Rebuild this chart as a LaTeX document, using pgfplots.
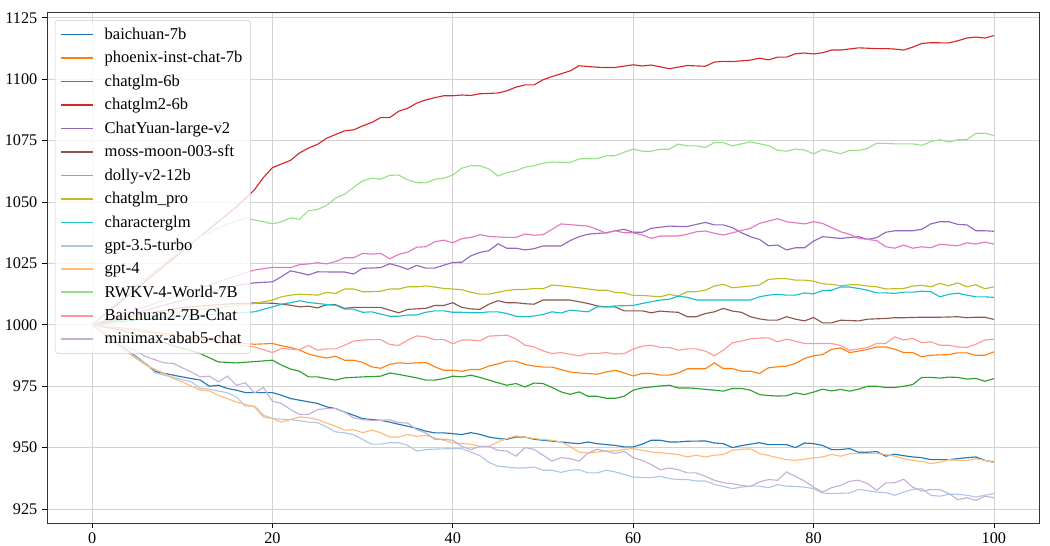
\documentclass[border=0pt]{standalone}
\usepackage{pgfplots}
\pgfplotsset{compat=1.18}
\usepackage{fontspec}
\setmainfont{Liberation Serif}

\definecolor{c1}{HTML}{1F77B4}
\definecolor{c2}{HTML}{FF7F0E}
\definecolor{c3}{HTML}{2CA02C}
\definecolor{c4}{HTML}{D62728}
\definecolor{c5}{HTML}{9467BD}
\definecolor{c6}{HTML}{8C564B}
\definecolor{c7}{HTML}{E377C2}
\definecolor{c8}{HTML}{BCBD22}
\definecolor{c9}{HTML}{17BECF}
\definecolor{c10}{HTML}{AEC7E8}
\definecolor{c11}{HTML}{FFBB78}
\definecolor{c12}{HTML}{98DF8A}
\definecolor{c13}{HTML}{FF9896}
\definecolor{c14}{HTML}{C5B0D5}

\begin{document}
\begin{tikzpicture}
% fix the page to the reference proportions (1px = 0.75pt)
\useasboundingbox (-35.25pt,-17.25pt) rectangle (752.25pt,392.25pt);
\begin{axis}[
  scale only axis, width=744pt, height=383.25pt,
  at={(0,0)}, anchor=south west,
  xmin=-5, xmax=105, ymin=919.3, ymax=1127.4,
  xtick={0,20,40,60,80,100},
  ytick={925,950,975,1000,1025,1050,1075,1100,1125},
  tick pos=left, tick align=outside, major tick length=3.75pt,
  tick style={black, line width=0.6pt},
  grid=major, grid style={gray!35, line width=0.6pt},
  axis line style={black!80, line width=0.6pt},
  /pgf/number format/assume math mode=true,
  /pgf/number format/1000 sep={},
  ticklabel style={font=\fontsize{12.2}{14}\selectfont},
  every axis plot/.append style={line width=0.85pt, mark=none},
  legend cell align=left,
  legend image code/.code={\draw[#1, line width=1.35pt, draw opacity=1] (0pt,0pt) -- (24pt,0pt); \path (30pt,0pt);},
  legend style={at={(0.008,0.984)}, anchor=north west,
    font=\fontsize{12.4}{14}\selectfont, row sep=3.5pt,
    draw=gray!40, rounded corners=2pt, fill=white, fill opacity=0.8,
    text opacity=1, draw opacity=1, inner xsep=4pt, inner ysep=3.5pt},
]
\addplot[c1] coordinates {(0,1000) (2,994.5) (4,989.5) (6,984) (7,981) (9,979.5) (11,978.1) (12,977.5) (13,975) (14,975.4) (15,974.1) (16,973.4) (17,972.4) (19,972.4) (20,972.4) (21,971.3) (22,970) (23,969.3) (25,968) (26,966.6) (27,965.9) (28,964.5) (29,963.2) (30,961.8) (32,961.1) (33,960.4) (34,959.5) (35,958.7) (36,957.8) (37,956.7) (38,956) (39,956) (40,955.7) (41,955.3) (42,956.1) (43,955.4) (44,954.3) (45,953.7) (46,953.4) (47,954.3) (48,954.3) (49,953.4) (50,953) (52,952.3) (53,951.9) (54,951.6) (55,952.3) (56,951.6) (58,950.9) (59,950.3) (60,950.3) (61,951.4) (62,953) (63,953) (64,952.3) (65,952.3) (66,952.6) (68,952.7) (69,951.9) (70,951.6) (71,950) (72,950.8) (73,951.4) (74,952) (75,951.2) (77,951.2) (78,950) (79,951.9) (80,951.6) (81,950.9) (82,949.2) (83,949.2) (84,949.6) (85,948.1) (86,948.1) (87,948.4) (88,946.5) (89,947.3) (90,946.7) (91,946.2) (92,945.9) (93,945.1) (94,945.1) (95,945.1) (96,945.5) (97,945.9) (98,946.2) (99,944.8) (100,944.1)};
\addlegendentry{baichuan-7b}
\addplot[c2] coordinates {(0,1000) (5,998) (10,995.5) (15,993) (18,992.1) (20,992.4) (21,991.5) (22,990.8) (23,989.7) (24,988.1) (25,987.2) (26,986.5) (27,987.2) (28,985.6) (29,985.6) (30,984.7) (31,982.9) (32,982.3) (33,983.9) (34,984.5) (35,984.3) (36,984.5) (37,984.7) (38,982.9) (39,981.5) (40,981.5) (41,981.1) (42,981.8) (43,981.8) (44,983.2) (45,984.1) (46,985.2) (47,985.2) (48,983.9) (49,983.2) (50,982.8) (51,982.8) (52,981.8) (53,980.8) (54,980.4) (56,979.9) (57,980.8) (58,981.5) (59,980.4) (60,979.2) (61,980.2) (62,980.2) (63,979.5) (64,979.5) (65,980.4) (66,982.1) (67,982.1) (68,982.1) (69,984.5) (70,982.2) (71,982.2) (72,981.1) (73,981.1) (74,980.2) (75,982.5) (76,982.9) (77,983.2) (78,984.3) (79,986.3) (80,987.4) (81,987.9) (82,990) (83,990.6) (84,988.7) (85,989.3) (86,990) (87,991) (88,991) (89,990.1) (90,988.7) (91,988.7) (92,987) (93,987.6) (95,987.9) (96,988.6) (97,988.6) (98,987.6) (99,987.6) (100,989)};
\addlegendentry{phoenix-inst-chat-7b}
\addplot[c3] coordinates {(0,1000) (3,998) (6,995) (9,991.5) (12,988.3) (14,984.9) (16,984.5) (19,985.3) (20,985.6) (21,983.6) (22,982) (23,981.1) (24,978.8) (25,978.8) (26,978.1) (27,977.5) (28,978.4) (29,978.6) (30,978.8) (32,979.1) (33,980.4) (34,979.8) (35,979.1) (36,978.4) (37,977.5) (38,977.5) (39,978.1) (40,979.1) (41,978.8) (42,979.5) (43,978.6) (44,977.5) (45,976.4) (46,975.4) (47,976.1) (48,974.7) (49,976.3) (50,976.1) (51,974.5) (52,972.7) (53,971.7) (54,972.7) (55,970.9) (56,970.9) (57,970.1) (58,970.1) (59,970.9) (60,973.4) (61,974.3) (62,974.7) (63,975.1) (64,975.4) (65,974.3) (66,974.3) (67,974.1) (68,973.7) (69,973.4) (70,973) (71,974.1) (72,974.1) (73,973.4) (74,971.6) (75,971.2) (76,971) (77,971.1) (78,972.3) (79,971.6) (80,972.6) (81,973.8) (82,973.1) (83,973.7) (84,973) (85,973.8) (86,975) (87,975) (88,974.5) (89,974.5) (90,975) (91,975.7) (92,978.6) (93,978.6) (94,978.3) (95,978.7) (96,978.6) (97,977.9) (98,978.2) (99,977) (100,978.1)};
\addlegendentry{chatglm-6b}
\addplot[c4] coordinates {(0,1000) (2,1006) (5,1015) (8,1024) (11,1033) (14,1042) (16,1048) (18,1055) (19,1060) (20,1064) (21,1065.5) (22,1067) (23,1070) (24,1072) (25,1073.5) (26,1076) (27,1077.5) (28,1079) (29,1079.4) (30,1081) (31,1082.4) (32,1084.4) (33,1084.4) (34,1087) (35,1088.2) (36,1090.3) (37,1091.6) (38,1092.5) (39,1093.3) (40,1093.3) (41,1093.6) (42,1093.4) (43,1094.1) (45,1094.4) (46,1095.3) (47,1096.8) (48,1097.7) (49,1097.7) (50,1099.8) (51,1101.1) (53,1103.4) (54,1105.5) (56,1104.9) (57,1104.8) (58,1104.8) (60,1105.9) (61,1105.4) (62,1105.8) (64,1104.3) (66,1105.6) (68,1105.3) (69,1107) (70,1107.3) (71,1107.2) (73,1107.8) (74,1108.6) (75,1107.9) (76,1109) (77,1109) (78,1110.4) (79,1110.7) (80,1110.3) (81,1110.8) (82,1111.9) (83,1111.9) (85,1112.8) (87,1112.5) (88,1112.5) (89,1112.3) (90,1111.9) (91,1113.1) (92,1114.6) (93,1114.9) (95,1114.8) (96,1115.7) (97,1116.8) (98,1117.2) (99,1116.8) (100,1117.8)};
\addlegendentry{chatglm2-6b}
\addplot[c5] coordinates {(0,1000) (4,1004) (8,1008) (12,1012) (16,1016) (18,1017.1) (20,1017.5) (21,1019.6) (22,1022) (23,1021.2) (24,1020.3) (25,1021.6) (27,1021.5) (28,1021.5) (29,1020.7) (30,1023) (32,1023.3) (33,1024.9) (34,1023.9) (35,1022.6) (36,1024.2) (37,1023.1) (38,1023.1) (39,1024.3) (40,1025.4) (41,1025.5) (42,1028.1) (43,1029.5) (44,1030.2) (45,1033) (46,1031.2) (47,1031.2) (48,1030.5) (49,1031) (50,1032.1) (51,1032.1) (52,1032.1) (53,1034.3) (54,1035.9) (55,1036.9) (57,1037.5) (58,1038.3) (59,1038.9) (60,1037.7) (61,1037.7) (62,1039.3) (64,1040.2) (66,1040) (67,1040.9) (68,1041.7) (69,1040.7) (70,1040.7) (71,1039.6) (72,1037.5) (73,1035.9) (74,1034.8) (75,1032.2) (76,1032.5) (77,1030.5) (78,1031.4) (79,1031.4) (80,1034.1) (81,1035.9) (83,1035.2) (85,1035.9) (86,1034.8) (87,1035.5) (88,1037.7) (89,1038.3) (91,1038.3) (92,1038.9) (93,1041.1) (94,1042) (95,1042) (96,1040.9) (97,1040.7) (98,1038.3) (99,1038.3) (100,1038.1)};
\addlegendentry{ChatYuan-large-v2}
\addplot[c6] coordinates {(0,1000) (5,1004) (10,1007) (15,1008.5) (18,1008.9) (20,1008.8) (22,1008) (23,1007.3) (24,1007.6) (25,1006.9) (26,1008.2) (27,1008.2) (28,1006.7) (29,1007.1) (30,1007.1) (31,1007.1) (32,1007.1) (33,1006) (34,1004.9) (35,1006.3) (37,1006.7) (38,1007.9) (39,1007.9) (40,1009) (41,1007.1) (42,1006.5) (43,1006.3) (44,1008.4) (45,1009.8) (46,1009) (47,1009) (48,1008.6) (49,1008.4) (50,1010.1) (51,1010.1) (52,1010.1) (53,1010.1) (54,1009.4) (55,1008.7) (56,1007.7) (57,1007.3) (58,1007.3) (59,1005.7) (60,1005.7) (61,1005.7) (62,1004.9) (63,1005.6) (64,1005.3) (65,1005.1) (66,1003.3) (67,1003.3) (68,1004.6) (69,1005.3) (70,1006.7) (71,1005.6) (72,1005.1) (73,1003.3) (74,1002.4) (75,1001.9) (76,1001.9) (77,1003.3) (78,1002.3) (79,1001.6) (80,1003) (81,1000.8) (82,1000.8) (83,1001.9) (85,1001.6) (86,1002.3) (88,1002.6) (89,1002.9) (90,1002.9) (92,1003.1) (94,1003.1) (96,1003.3) (97,1002.9) (98,1003.1) (99,1003.1) (100,1002.2)};
\addlegendentry{moss-moon-003-sft}
\addplot[c7] coordinates {(0,1000) (4,1005) (8,1010) (12,1015) (16,1020) (18,1022.3) (20,1023.4) (22,1023.3) (23,1024.5) (24,1024.8) (25,1025.3) (26,1024.8) (27,1025.8) (28,1027.3) (29,1027.3) (30,1029.1) (31,1028.8) (32,1029.1) (33,1026.9) (34,1028.7) (35,1029.6) (36,1031.6) (37,1031.8) (38,1033.8) (39,1034.5) (40,1033.4) (41,1035.1) (42,1035.6) (43,1036.7) (44,1036) (46,1035.6) (47,1035.6) (48,1037) (49,1036.5) (50,1036.7) (51,1038.9) (52,1041.1) (55,1040.2) (56,1038.9) (57,1037.3) (58,1038.3) (59,1037.5) (60,1037.5) (61,1036.6) (62,1035.2) (63,1036.2) (65,1036.2) (66,1036.9) (67,1037.9) (68,1038.2) (69,1037.3) (70,1036.6) (71,1037.5) (73,1039.3) (74,1041.3) (76,1043.2) (77,1042) (79,1041.1) (80,1042) (81,1041.3) (82,1039.6) (83,1037.9) (84,1036.9) (85,1035.2) (86,1034.8) (87,1034.3) (88,1031.8) (89,1031.2) (90,1032.5) (91,1031.2) (92,1031.8) (93,1031.4) (94,1032.8) (96,1032.2) (97,1033.4) (98,1032.9) (99,1033.7) (100,1032.9)};
\addlegendentry{dolly-v2-12b}
\addplot[c8] coordinates {(0,1000) (5,1003) (10,1005.5) (15,1007.5) (18,1008.7) (20,1010.1) (21,1011.4) (22,1012.1) (23,1012.5) (25,1012.1) (26,1013.2) (27,1012.8) (28,1014.6) (29,1014.6) (30,1013.5) (31,1013.5) (32,1013.7) (33,1014.6) (34,1014.6) (35,1015.5) (36,1015.5) (37,1015.8) (38,1015.4) (39,1014.8) (40,1014.6) (41,1014.3) (42,1013.3) (43,1012.5) (44,1012.5) (46,1014) (47,1014.4) (48,1014.4) (49,1014.8) (50,1014.7) (51,1016.2) (52,1015.9) (54,1015.1) (56,1014.1) (57,1014.1) (58,1013.2) (59,1013) (60,1012) (61,1012) (63,1011.4) (64,1012.4) (65,1011.7) (66,1013.5) (67,1013.5) (68,1014.1) (69,1015.8) (70,1016.5) (71,1015.1) (73,1015.8) (74,1016.2) (75,1018.5) (76,1018.8) (77,1018.8) (78,1018.2) (79,1018.2) (80,1017.8) (81,1016.7) (82,1016.5) (83,1015.9) (84,1016.3) (85,1016.3) (86,1015.8) (87,1015.5) (88,1014.6) (90,1014.8) (91,1015.8) (92,1016.1) (93,1015.5) (94,1016.9) (95,1015.9) (96,1017.1) (97,1015.5) (98,1016.3) (99,1014.7) (100,1015.5)};
\addlegendentry{chatglm\_pro}
\addplot[c9] coordinates {(0,1000) (5,1002) (10,1003.5) (15,1004.5) (18,1005.3) (20,1007.3) (21,1008.4) (22,1009) (23,1009.8) (24,1009.1) (26,1008.3) (27,1008) (28,1006.4) (29,1006.4) (30,1005.1) (31,1005.3) (32,1004.4) (33,1003.5) (34,1003.5) (35,1004) (36,1004) (37,1005.1) (38,1005.7) (39,1005.7) (40,1005.1) (41,1005.1) (42,1004.9) (43,1004.9) (44,1005.3) (45,1005.3) (46,1004.6) (47,1003.5) (48,1003.3) (49,1003.6) (50,1004.2) (51,1005.3) (52,1004.8) (53,1006) (55,1005.3) (56,1007.3) (57,1007.3) (58,1007.7) (60,1007.9) (61,1008.7) (62,1009.4) (63,1010.1) (64,1010.4) (65,1011.7) (66,1011.2) (67,1010.1) (68,1010.1) (69,1010.1) (70,1010.1) (71,1010.1) (73,1010.1) (74,1011.4) (75,1012.1) (76,1012.4) (77,1012.1) (78,1012.1) (79,1013) (80,1012.6) (81,1014) (82,1014.1) (83,1015.4) (84,1015.4) (85,1014.8) (86,1014.1) (87,1013) (88,1013) (89,1012.8) (90,1013.3) (91,1013.3) (92,1013.7) (93,1013.5) (94,1011.4) (95,1012.4) (96,1012.9) (97,1012.1) (98,1011.4) (99,1011.4) (100,1011.2)};
\addlegendentry{characterglm}
\addplot[c10] coordinates {(0,1000) (2,994.5) (4,989) (6,984) (7,980.4) (9,978.6) (11,976.8) (12,974.1) (13,973.8) (15,972.3) (16,970.6) (17,966.9) (18,966.9) (19,963.2) (20,961.8) (22,961.4) (23,960.9) (24,960.4) (25,960.2) (26,958.4) (27,956.4) (28,956) (29,955.3) (30,953.3) (31,951.4) (32,951.4) (33,952) (34,952) (35,950.9) (36,948.6) (37,949.2) (38,949.4) (40,949.6) (41,949.6) (42,948.2) (43,946.7) (44,944) (45,942.4) (46,942.1) (47,941.7) (48,941.7) (49,942.1) (50,940.8) (51,940.8) (52,939.9) (53,940.8) (54,941) (55,939.7) (56,939.7) (57,940.8) (58,940.1) (59,939.1) (60,938) (61,937.8) (62,937.8) (63,938.3) (64,937.4) (65,937) (66,937) (67,936.4) (68,936.4) (69,935) (70,934.2) (71,933.3) (72,933.9) (73,934.3) (74,934.3) (75,933.7) (76,934.9) (77,934.3) (78,934.2) (79,933.9) (80,933.3) (81,931.5) (82,931.3) (84,931.5) (85,933) (87,931.9) (88,931.7) (89,930.6) (90,931.9) (91,933) (92,933.3) (93,930.6) (94,930.2) (95,931) (96,931) (97,930.6) (98,929.9) (99,930.6) (100,931.3)};
\addlegendentry{gpt-3.5-turbo}
\addplot[c11] coordinates {(0,1000) (2,994) (4,988.5) (6,983.5) (8,980.2) (9,978.1) (10,976.8) (12,973.4) (13,973.1) (14,971.3) (16,968.6) (18,966.6) (19,962.5) (20,961.8) (21,960.4) (22,961.4) (23,962.5) (24,962.2) (25,961.4) (26,960) (27,958.7) (28,957.1) (29,957.3) (30,956.1) (31,957.1) (32,956.1) (33,954.3) (34,954.3) (35,955.3) (36,954.6) (37,955) (38,953.9) (39,953) (40,951.9) (41,951.6) (42,951.4) (43,950.5) (44,950.5) (45,952.3) (46,953.7) (47,954.8) (48,954.3) (49,953.7) (50,953.3) (51,953) (52,952.3) (53,950.5) (54,948.2) (55,947.8) (56,948.2) (57,948.6) (58,948.6) (59,949.3) (60,949.6) (61,948.9) (62,948.2) (64,947.6) (65,947.2) (66,946.2) (67,946.9) (68,946.2) (69,946.9) (70,947.2) (71,948.9) (72,949.3) (73,949.5) (74,947.6) (75,946.8) (76,945.9) (77,945.1) (78,944.8) (80,945.8) (81,946.2) (82,947.2) (83,946.5) (84,947.6) (87,947.6) (88,947.2) (89,946.5) (90,945.5) (91,944.8) (92,944.4) (93,943.5) (94,944) (95,945.1) (96,944.8) (97,944.8) (98,945.5) (99,944.8) (100,943.9)};
\addlegendentry{gpt-4}
\addplot[c12] coordinates {(0,1000) (4,1013) (8,1025) (12,1036) (15,1041) (17,1043.4) (19,1042) (20,1041.1) (21,1042) (22,1043.6) (23,1043) (24,1046.5) (25,1047) (26,1048.6) (27,1051.6) (28,1053.2) (29,1056) (30,1058.6) (31,1059.7) (32,1059.3) (33,1060.9) (34,1061) (35,1059) (36,1057.9) (37,1057.8) (38,1059.3) (39,1059.7) (40,1061) (41,1063.8) (42,1064.8) (43,1064.8) (44,1063.5) (45,1060.6) (46,1062) (47,1062.7) (48,1064.2) (49,1064.8) (50,1065.8) (51,1066.3) (53,1066.1) (54,1067.6) (56,1067.7) (57,1068.8) (58,1068.9) (59,1070.3) (60,1071.6) (61,1070.7) (62,1070.7) (63,1071.5) (64,1071.5) (65,1073.6) (66,1072.9) (67,1072.9) (68,1072.2) (69,1074.2) (70,1074.2) (71,1072.9) (73,1074.5) (75,1073) (76,1071.1) (77,1070.7) (78,1071.6) (79,1071.2) (80,1069.6) (81,1071.4) (82,1070.5) (83,1069.7) (84,1071) (85,1071) (86,1071.9) (87,1074) (89,1073.7) (91,1073.7) (92,1073.1) (93,1074.6) (94,1075.4) (95,1074.4) (96,1075.4) (97,1075.4) (98,1078) (99,1078) (100,1077.1)};
\addlegendentry{RWKV-4-World-7B}
\addplot[c13] coordinates {(0,1000) (5,997.5) (10,995) (15,992.5) (18,991) (20,988.7) (21,990.4) (22,990.1) (23,990) (24,991.6) (25,989.7) (26,990.2) (27,990.2) (28,991.7) (29,993.4) (30,993.8) (31,994) (32,994) (33,992) (34,991.6) (35,993.8) (36,995.5) (37,995.1) (38,994) (39,994) (40,992.3) (41,993.8) (42,993.8) (43,993.5) (44,995.4) (46,995.8) (47,994.3) (48,991.7) (49,991) (50,989.4) (51,988.3) (52,988.7) (54,987.4) (55,988.3) (56,988.3) (57,988.7) (58,988.1) (59,988.3) (60,990.1) (61,991.3) (62,991.7) (63,990.8) (64,990.8) (65,989.7) (66,990.2) (67,990.2) (68,989.3) (69,987.4) (70,989.7) (71,992.7) (72,993.4) (73,994.3) (74,994.6) (75,994.7) (76,993.1) (77,994.2) (79,992.4) (80,992.4) (82,992.4) (83,991.6) (84,989.6) (86,990.8) (87,992.4) (88,992.4) (89,995.1) (90,993.8) (91,994.5) (92,992.7) (93,993.1) (94,991.7) (95,991.7) (96,991) (97,990.8) (98,992.1) (99,993.8) (100,994.2)};
\addlegendentry{Baichuan2-7B-Chat}
\addplot[c14] coordinates {(0,1000) (2,995.5) (4,991) (6,987) (8,984.5) (9,984.3) (10,982.5) (11,980.8) (12,978.8) (13,979.1) (14,976.8) (15,979.1) (16,975.4) (17,976.4) (18,972.3) (19,974.5) (20,968.9) (21,968) (22,965.5) (23,963.5) (24,963.5) (25,965.5) (26,965.9) (27,965.9) (28,964.5) (29,962.1) (30,961.4) (31,961.1) (32,961.1) (33,961.4) (34,960.2) (35,960) (36,957.3) (37,956) (38,953.4) (39,953.4) (40,953) (41,950.5) (42,949.2) (43,950.5) (44,950.5) (45,948.9) (46,948.6) (47,946.5) (48,950) (49,949.3) (50,946.9) (51,944.5) (52,945.9) (53,945.5) (54,944.5) (55,947.8) (56,949.3) (57,948.5) (58,947.6) (59,948.5) (60,945.9) (61,944.8) (62,943.1) (63,941) (64,941.7) (65,941) (66,939.7) (67,939.7) (68,938.3) (69,936.7) (70,935.7) (71,935.3) (72,934.6) (73,934.2) (74,936) (75,937) (76,936.7) (77,940.1) (78,938.3) (79,936.4) (80,933.9) (81,931.9) (82,933.7) (83,934.6) (84,936.3) (85,936.7) (86,935.3) (87,932.6) (88,935.6) (89,935.7) (90,937.1) (91,933.9) (92,932.3) (93,932.9) (94,932.9) (95,931.3) (96,928.8) (97,929.6) (98,928.5) (99,930.2) (100,929.6)};
\addlegendentry{minimax-abab5-chat}
\end{axis}
\end{tikzpicture}
\end{document}
